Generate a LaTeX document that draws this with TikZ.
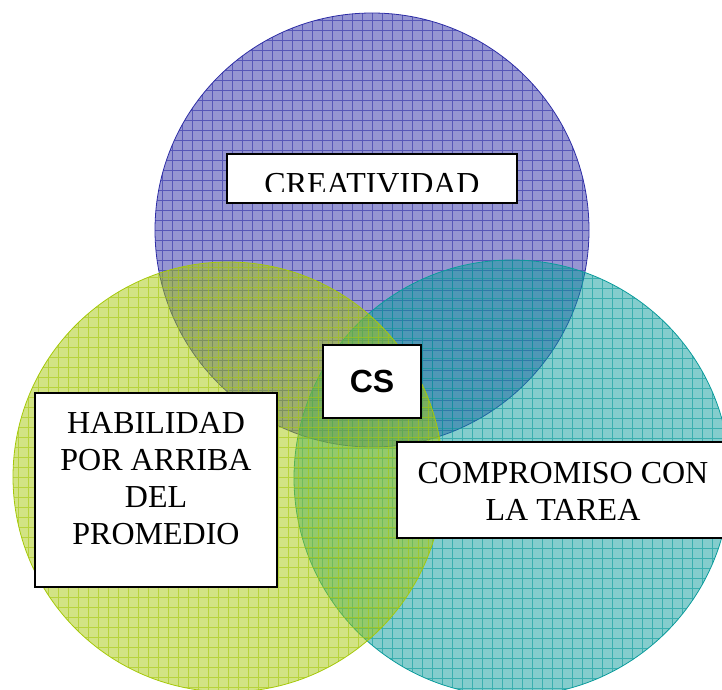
\documentclass[tikz,border=0pt]{standalone}
\usepackage{fontspec}
\setmainfont{Liberation Serif}
\newfontfamily\csfont{Liberation Sans}
\usepackage{tikz}
\usetikzlibrary{positioning}
\definecolor{vpurple}{RGB}{45,45,165}
\definecolor{vgreen}{RGB}{165,200,10}
\definecolor{vteal}{RGB}{10,155,155}
\tikzset{
x=1pt, y=1pt, % one unit is one pixel of the picture
venn/.style={circle, draw=#1, fill=#1, fill opacity=0.5, line width=0.8pt,
  minimum size=434pt, inner sep=0pt,
  path picture={\draw[#1, opacity=0.6, line width=0.6pt, step=10pt]
    (path picture bounding box.south west) grid (path picture bounding box.north east);}}, % a see-through circle with a grid inside
box/.style={rectangle, draw=black, fill=white, line width=2pt, inner sep=0pt}, % the white label boxes
words/.style={align=center, inner sep=0pt, font=\fontsize{32}{37}\selectfont}, % text set in the boxes
}
\begin{document}
\begin{tikzpicture}
  \useasboundingbox (0,0) rectangle (722,689);
  % the three circles
  \node[venn=vpurple] (crea) at (372,459) {};
  \node[venn=vteal, minimum size=436pt] (comp) at (512,211) {};
  \node[venn=vgreen, minimum size=430pt] (habi) at (228,212) {};
  % the boxes
  \node[box, minimum width=290pt, minimum height=49pt] (creabox) at (372,510.5) {};
  \node[box, minimum width=98pt, minimum height=73pt] (csbox) at (372,307.5) {};
  \node[box, minimum width=242pt, minimum height=194pt] (habibox) at (156,199) {};
  \node[box, minimum width=338pt, minimum height=96pt] (compbox) at (566,199) {};
  % the texts
  \begin{scope}
    \clip (227,497) rectangle (517,535);
    \node[words, anchor=base] (creatxt) at (372,494.5) {CREATIVIDAD};
  \end{scope}
  \node[words, font=\fontsize{32}{37}\csfont\bfseries] (cstxt) at (csbox.center) {CS};
  \node[words] (habitxt) at (156,210) {HABILIDAD\\POR ARRIBA\\DEL\\PROMEDIO};
  \node[words] (comptxt) at (563,198) {COMPROMISO CON\\LA TAREA};
\end{tikzpicture}
\end{document}
